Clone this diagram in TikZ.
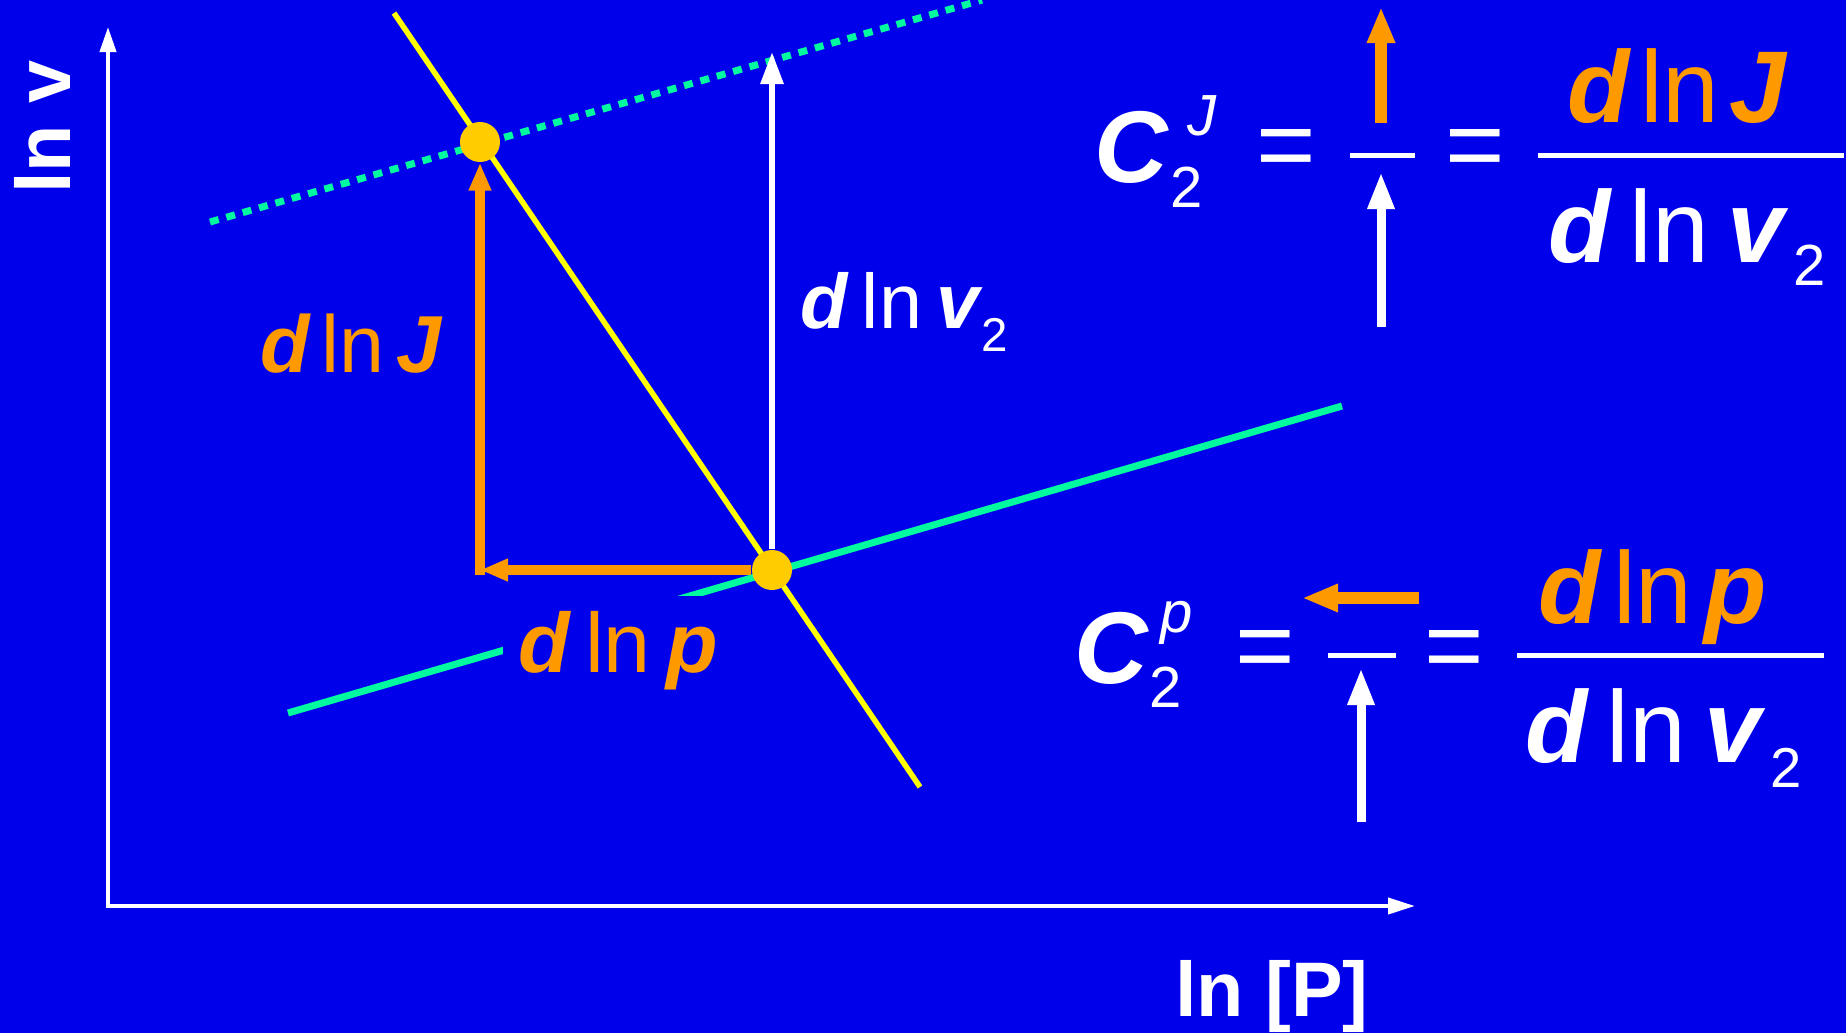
\documentclass[tikz,border=0pt]{standalone}
\usepackage{fontspec}
\setmainfont{Liberation Sans}
\usetikzlibrary{arrows.meta}

\definecolor{slideblue}{RGB}{0,0,235}
\definecolor{lnorange}{RGB}{255,153,0}
\definecolor{lnyellow}{RGB}{255,255,0}
\definecolor{lngreen}{RGB}{0,250,160}
\definecolor{lngold}{RGB}{255,204,0}

\newcommand{\bitx}[1]{{\bfseries\itshape #1}}
\newcommand{\dln}[2][0.18em]{\bitx{d}\hspace{#1}ln\hspace{#1}\bitx{#2}}
\newcommand{\subtwo}[3]{\hspace{#1}\raisebox{-#2}{\fontsize{#3}{#3}\selectfont 2}}

\tikzset{
  axisline/.style={white, line width=0.04cm,
    {Triangle[length=0.25cm,width=0.16cm]}-{Triangle[length=0.27cm,width=0.16cm]}},
  axislabel/.style={white, inner sep=0, font=\fontsize{22}{24}\selectfont\bfseries},
  yelline/.style={lnyellow, line width=0.055cm},
  grnline/.style={lngreen, line width=0.07cm},
  dotline/.style={lngreen, line width=0.07cm, dash pattern=on 0.09cm off 0.08cm},
  dot/.style={circle, fill=lngold, minimum size=0.4cm, inner sep=0},
  whitearrow/.style={white, line width=0.06cm, -{Triangle[length=0.32cm,width=0.22cm]}},
  orangearrow/.style={lnorange, line width=0.1cm, -{Triangle[length=0.28cm,width=0.21cm]}},
  orangebig/.style={lnorange, line width=0.12cm, -{Triangle[length=0.36cm,width=0.26cm]}},
  whitebig/.style={white, line width=0.09cm, -{Triangle[length=0.37cm,width=0.25cm]}},
  fracbar/.style={white, line width=0.05cm},
  midlabel/.style={inner sep=0, font=\fontsize{#1}{#1}\selectfont},
  eqtext/.style={white, inner sep=0, font=\fontsize{29}{30}\selectfont},
  suptext/.style={white, inner sep=0, font=\fontsize{16.5}{17}\selectfont}
}

\begin{document}
\begin{tikzpicture}[x=0.01cm, y=-0.01cm]
% background
\fill[slideblue] (0,0) rectangle (1846,1033);
\useasboundingbox (0,0) rectangle (1846,1033);

% axes
\coordinate (origin) at (108,906);
\coordinate (ytip) at (108,27);
\coordinate (xtip) at (1415,906);
\draw[axisline] (ytip) -- (origin) -- (xtip);
\node[axislabel, rotate=90] (ylab) at (42,127) {ln v};
\node[axislabel, anchor=base] (xlab) at (1272,1016) {ln [P]};

% lines
\coordinate (yelA) at (394,13);
\coordinate (yelB) at (920,787);
\draw[yelline] (yelA) -- (yelB);
\coordinate (grnA) at (288,713);
\coordinate (grnB) at (1342,406);
\draw[grnline] (grnA) -- (grnB);
\coordinate (dotA) at (210,222);
\coordinate (dotB) at (982,0);
\draw[dotline] (dotA) -- (dotB);

% points
\node[dot] (highpt) at (480,142) {};
\node[dot] (lowpt) at (772,570) {};

% differentials
\coordinate (corner) at (480,570);
\coordinate (v2top) at (772,52);
\draw[whitearrow] (lowpt) -- (v2top);
\draw[orangearrow] (lowpt) -- (corner);
\draw[orangearrow, line cap=rect] (corner) -- (highpt);
\node[midlabel=23, lnorange, anchor=base] (labj) at (351,372) {\dln[0.15em]{J}};
\node[midlabel=22, white, anchor=base west] (labv) at (800,328) {\dln{v}\subtwo{0.02cm}{0.23cm}{13.5}};
\node[midlabel=24, lnorange, fill=slideblue, inner sep=0.15cm, anchor=base] (labp) at (618,672) {\dln{p}};

% C2J
\node[eqtext, anchor=base west] (cj) at (1094,182) {\bitx{C}};
\node[suptext, anchor=base west] (cjsup) at (1187,135) {\itshape J};
\node[suptext, anchor=base west] (cjsub) at (1170,207) {2};
\node[eqtext] (eqjA) at (1286,154) {=};
\draw[fracbar] (1350,155) -- (1415,155);
\coordinate (jupA) at (1381,123);
\coordinate (jupB) at (1381,7);
\draw[orangebig] (jupA) -- (jupB);
\coordinate (jdnA) at (1381,327);
\coordinate (jdnB) at (1381,172);
\draw[whitebig] (jdnA) -- (jdnB);
\node[eqtext] (eqjB) at (1475,154) {=};
\draw[fracbar] (1538,155) -- (1844,155);
\node[eqtext, lnorange, anchor=base west] (numj) at (1567,122) {\dln[0.1em]{J}};
\node[eqtext, anchor=base west] (denj) at (1548,262) {\dln{v}\subtwo{0.1cm}{0.23cm}{16.5}};

% C2p
\node[eqtext, anchor=base west] (cp) at (1074,683) {\bitx{C}};
\node[suptext, anchor=base west] (cpsup) at (1160,632) {\itshape p};
\node[suptext, anchor=base west] (cpsub) at (1149,707) {2};
\node[eqtext] (eqpA) at (1265,655) {=};
\draw[fracbar] (1328,655) -- (1396,655);
\coordinate (pleftA) at (1419,598);
\coordinate (pleftB) at (1302,598);
\draw[orangebig] (pleftA) -- (pleftB);
\coordinate (pupA) at (1361,822);
\coordinate (pupB) at (1361,668);
\draw[whitebig] (pupA) -- (pupB);
\node[eqtext] (eqpB) at (1454,655) {=};
\draw[fracbar] (1517,655) -- (1824,655);
\node[eqtext, lnorange, anchor=base west] (nump) at (1538,623) {\dln[0.12em]{p}};
\node[eqtext, anchor=base west] (denp) at (1525,762) {\dln{v}\subtwo{0.1cm}{0.25cm}{16}};
\end{tikzpicture}
\end{document}
